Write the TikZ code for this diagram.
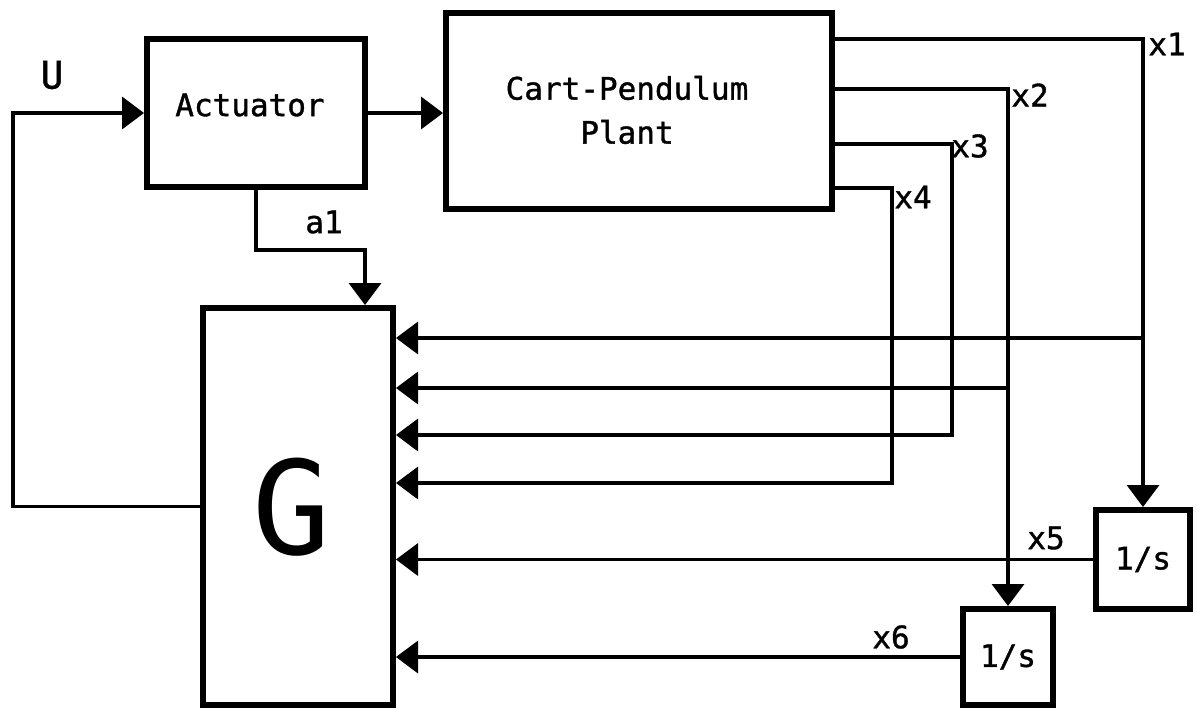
\documentclass[tikz,border=0pt]{standalone}
\usepackage{fontspec}
\setmonofont{DejaVu Sans Mono}
\newfontfamily\lblfont{DejaVu Sans Mono}[FakeBold=1.2]
\usetikzlibrary{arrows.meta,calc}
\begin{document}
\begin{tikzpicture}[x=1pt,y=-1pt,
  box/.style={draw,line width=6pt,inner sep=0pt,font=\lblfont\fontsize{31}{36}\selectfont},
  sig/.style={line width=3.5pt},
  arr/.style={-{Triangle[length=22pt,width=32pt]}},
  lab/.style={inner sep=0pt,font=\lblfont\fontsize{31}{44}\selectfont}]
\fill[white] (0,0) rectangle (1197,709);
\useasboundingbox (0,0) rectangle (1197,709);
% blocks
\node[box, minimum width=218pt, minimum height=148pt] (act) at (256,113) {};
\node[lab] (acttxt) at (250,105) {Actuator};
\node[box, minimum width=386pt, minimum height=196pt] (plant) at (639,111) {};
\node[lab, align=center] (planttxt) at (627,110) {Cart-Pendulum\\Plant};
\node[box, minimum width=190pt, minimum height=397pt] (G) at (298,506.5) {};
\node[inner sep=0pt,font=\ttfamily\fontsize{130}{130}\selectfont] (gtxt) at (292,507) {G};
\node[box, minimum width=94pt, minimum height=99pt] (b5) at (1143,559.5) {1/s};
\node[box, minimum width=90pt, minimum height=96pt] (b6) at (1008,657) {1/s};
% tap points
\coordinate (t1) at (1143,338);
\coordinate (t2) at (1008,388);
\coordinate (t3) at (952,435);
\coordinate (t4) at (892,483);
% connectors
\draw[sig,arr] (G.west) -- ++(-187,0) |- (act.west);
\draw[sig,arr] (act.east) -- (act.east -| plant.west);
\draw[sig,arr] (act.south) -- ++(0,60) -| ($(G.north)+(67,0)$);
\draw[sig,arr] (plant.east |- 0,39) -| (b5.north);
\draw[sig,arr] (t1) -- (G.east |- t1);
\draw[sig,arr] (plant.east |- 0,89) -| (b6.north);
\draw[sig,arr] (t2) -- (G.east |- t2);
\draw[sig,arr] (plant.east |- 0,144) -| (t3) -- (G.east |- t3);
\draw[sig,arr] (plant.east |- 0,188) -| (t4) -- (G.east |- t4);
\draw[sig,arr] (b5.west) -- (G.east |- b5.west);
\draw[sig,arr] (b6.west) -- (G.east |- b6.west);
% labels
\node[lab,font=\lblfont\fontsize{38}{44}\selectfont] (lu) at (52,75) {U};
\node[lab] (la1) at (324,222) {a1};
\node[lab] (lx1) at (1167,44) {x1};
\node[lab] (lx2) at (1030,95) {x2};
\node[lab] (lx3) at (970,146) {x3};
\node[lab] (lx4) at (913,197) {x4};
\node[lab] (lx5) at (1046,538) {x5};
\node[lab] (lx6) at (891,637) {x6};
\end{tikzpicture}
\end{document}
